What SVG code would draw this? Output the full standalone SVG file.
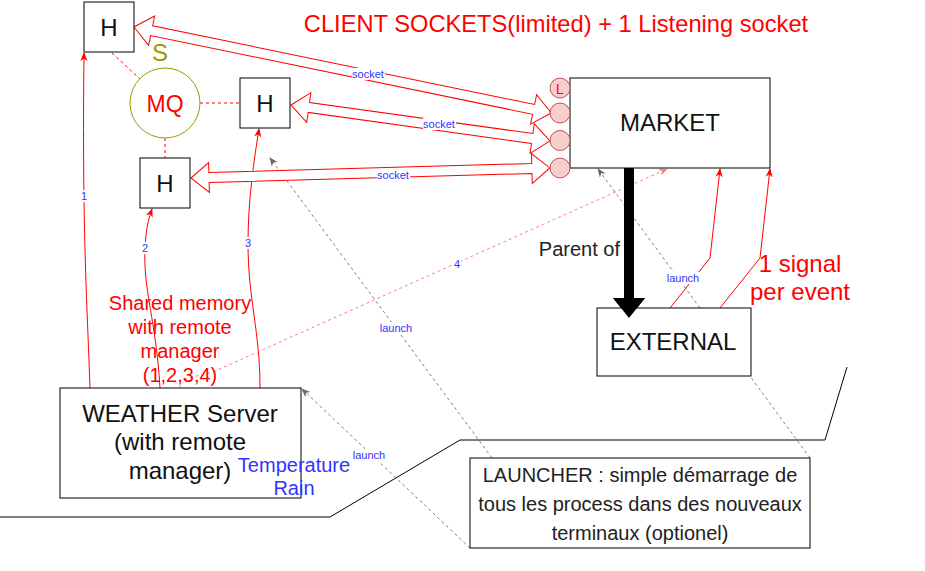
<svg xmlns="http://www.w3.org/2000/svg" width="925" height="571" viewBox="0 0 925 571">
<style>
text{font-family:"Liberation Sans",Arial,sans-serif}
.box{fill:#fff;stroke:#000;stroke-width:1}
.big{font-size:24px;fill:#111;text-anchor:middle}
.red{fill:#ff0000}
.blue{fill:#3333ff}
.lbl{font-size:11px;fill:#3333ff;text-anchor:middle}
.lblbg{fill:#fff}
.flex{fill:#fff;stroke:#ff0000;stroke-width:1}
.rl{fill:none;stroke:#ff0000;stroke-width:1}
.dl{fill:none;stroke:#ff0000;stroke-width:1;stroke-dasharray:3 3}
.gl{fill:none;stroke:#808080;stroke-width:1;stroke-dasharray:3 3}
.pl{fill:none;stroke:#ff8080;stroke-width:1;stroke-dasharray:3 3}
.sock{fill:#f8cecc;stroke:#b85450;stroke-width:1}
</style>
<defs>
<marker id="ar" viewBox="0 0 10 10" refX="9" refY="5" markerWidth="9" markerHeight="9" markerUnits="userSpaceOnUse" orient="auto"><path d="M0,1 L10,5 L0,9 L3,5 z" fill="#ff0000"/></marker>
<marker id="ag" viewBox="0 0 10 10" refX="9" refY="5" markerWidth="9" markerHeight="9" markerUnits="userSpaceOnUse" orient="auto"><path d="M0,1 L10,5 L0,9 L3,5 z" fill="#666"/></marker>
<marker id="ap" viewBox="0 0 10 10" refX="9" refY="5" markerWidth="9" markerHeight="9" markerUnits="userSpaceOnUse" orient="auto"><path d="M0,1 L10,5 L0,9 L3,5 z" fill="#ff8080"/></marker>
</defs>
<rect width="925" height="571" fill="#fff"/>

<g id="separator">
<polyline points="0,517 330,517 460,440 825,440 847,367" fill="none" stroke="#000" stroke-width="1"/>
</g>

<g id="connectors">
<line class="dl" x1="112" y1="53" x2="140" y2="79"/>
<line class="dl" x1="200" y1="103" x2="240" y2="103"/>
<line class="dl" x1="165" y1="138" x2="165" y2="158"/>
<line class="gl" x1="470" y1="548" x2="302" y2="389" marker-end="url(#ag)"/>
<line class="gl" x1="492" y1="458" x2="270" y2="158" marker-end="url(#ag)"/>
<line class="gl" x1="810" y1="458" x2="598" y2="169" marker-end="url(#ag)"/>
<path class="rl" d="M90,388 C87,300 82,230 84,53" marker-end="url(#ar)"/>
<path class="rl" d="M160,388 C156,320 143,290 145,248 C146,230 148,220 152,209" marker-end="url(#ar)"/>
<path class="rl" d="M260,388 C260,330 248,300 248,243 C248,200 254,160 259,129" marker-end="url(#ar)"/>
<path class="pl" d="M180,388 L180,380 L213,372 L667,169" marker-end="url(#ap)"/>
<polyline class="rl" points="670,308 710,258 720,169" marker-end="url(#ar)"/>
<polyline class="rl" points="720,308 760,258 770,169" marker-end="url(#ar)"/>
<polygon class="flex" transform="translate(134,27) rotate(11.65)" points="0,0 18,-15 18,-5 408,-5 408,-15 426,0 408,15 408,5 18,5 18,15"/>
<polygon class="flex" transform="translate(291,105) rotate(7.91)" points="0,0 18,-15 18,-5 243.5,-5 243.5,-15 261.5,0 243.5,15 243.5,5 18,5 18,15"/>
<polygon class="flex" transform="translate(191,178) rotate(-1.6)" points="0,0 18,-15 18,-5 341,-5 341,-15 359,0 341,15 341,5 18,5 18,15"/>
<rect x="624" y="168" width="10" height="131" fill="#000"/>
<polygon points="613,298 645,298 629,318" fill="#000"/>
<rect class="lblbg" x="352" y="68" width="33" height="12"/><text class="lbl" x="368" y="78">socket</text>
<rect class="lblbg" x="423" y="118" width="33" height="12"/><text class="lbl" x="439" y="128">socket</text>
<rect class="lblbg" x="377" y="169" width="33" height="12"/><text class="lbl" x="393" y="179">socket</text>
<rect class="lblbg" x="80" y="190" width="8" height="12"/><text class="lbl" x="84" y="200">1</text>
<rect class="lblbg" x="141" y="242" width="8" height="12"/><text class="lbl" x="145" y="252">2</text>
<rect class="lblbg" x="244" y="237" width="8" height="12"/><text class="lbl" x="248" y="247">3</text>
<rect class="lblbg" x="453" y="258" width="8" height="12"/><text class="lbl" x="457" y="268">4</text>
<rect class="lblbg" x="380" y="322" width="32" height="12"/><text class="lbl" x="396" y="332">launch</text>
<rect class="lblbg" x="353" y="449" width="32" height="12"/><text class="lbl" x="369" y="459">launch</text>
<rect class="lblbg" x="667" y="272" width="32" height="12"/><text class="lbl" x="683" y="282">launch</text>
<text x="620" y="256" font-size="20" fill="#222" text-anchor="end">Parent of</text>
</g>

<g id="title"><text x="556" y="31.5" font-size="23.7" class="red" text-anchor="middle">CLIENT SOCKETS(limited) + 1 Listening socket</text></g>

<g id="h1"><rect class="box" x="84" y="2" width="50" height="50"/><text class="big" x="109" y="36" font-size="25">H</text></g>
<g id="h2"><rect class="box" x="240" y="78" width="50" height="50"/><text class="big" x="265" y="112" font-size="25">H</text></g>
<g id="h3"><rect class="box" x="140" y="158" width="50" height="50"/><text class="big" x="165" y="192" font-size="25">H</text></g>

<g id="mq">
<circle cx="165" cy="103" r="35" fill="#fff" stroke="#999900" stroke-width="1"/>
<text x="165" y="111.5" font-size="23" class="red" text-anchor="middle">MQ</text>
<text x="160" y="61" font-size="24" fill="#999900" text-anchor="middle">S</text>
</g>

<g id="market">
<rect class="box" x="570" y="78" width="200" height="90"/>
<text class="big" x="670" y="131">MARKET</text>
</g>
<g id="sockets">
<circle class="sock" cx="560" cy="88" r="10"/>
<text x="560" y="93.5" font-size="14" class="red" text-anchor="middle">L</text>
<circle class="sock" cx="560" cy="113" r="10"/>
<circle class="sock" cx="560" cy="140.5" r="10"/>
<circle class="sock" cx="560" cy="168" r="10"/>
</g>

<g id="external">
<rect class="box" x="597" y="308" width="154" height="68"/>
<text class="big" x="673" y="350">EXTERNAL</text>
</g>
<polygon points="613,298 645,298 629,318" fill="#000"/>
<rect x="624" y="300" width="10" height="2" fill="#000"/>

<g id="signal-note" class="red" font-size="24" text-anchor="middle">
<text x="800" y="272">1 signal</text>
<text x="800" y="300">per event</text>
</g>

<g id="shm-note" class="red" font-size="20" text-anchor="middle">
<text x="180" y="310">Shared memory</text>
<text x="180" y="334">with remote</text>
<text x="180" y="358">manager</text>
<text x="180" y="382">(1,2,3,4)</text>
</g>

<g id="weather">
<rect class="box" x="60" y="388" width="241" height="110"/>
<text class="big" x="180" y="421.5">WEATHER Server</text>
<text class="big" x="180" y="450">(with remote</text>
<text class="big" x="180" y="479">manager)</text>
</g>

<g id="weather-data" class="blue" font-size="20" text-anchor="middle">
<text x="294" y="471.5">Temperature</text>
<text x="294" y="495">Rain</text>
</g>

<g id="launcher">
<rect class="box" x="470" y="458" width="340" height="90"/>
<text x="640" y="481.5" font-size="20" fill="#222" text-anchor="middle">LAUNCHER : simple démarrage de</text>
<text x="640" y="510.5" font-size="20" fill="#222" text-anchor="middle">tous les process dans des nouveaux</text>
<text x="640" y="539.5" font-size="20" fill="#222" text-anchor="middle">terminaux (optionel)</text>
</g>
</svg>
